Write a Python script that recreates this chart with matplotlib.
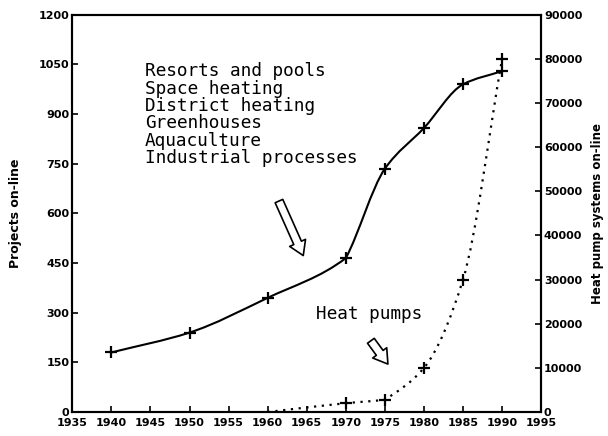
import numpy as np
import matplotlib
matplotlib.use("Agg")
import matplotlib.pyplot as plt
from matplotlib.path import Path
from matplotlib.patches import PathPatch

# values
proj_years = [1940, 1950, 1960, 1970, 1975, 1980, 1985, 1990]
proj_counts = [180, 240, 345, 465, 735, 858, 990, 1030]

hp_years = [1960, 1970, 1975, 1980, 1985, 1990]
hp_counts = [0, 2000, 2800, 10000, 30000, 80000]

uses = ["Resorts and pools", "Space heating", "District heating",
        "Greenhouses", "Aquaculture", "Industrial processes"]

x_ticks = list(range(1935, 1996, 5))
left_ticks = list(range(0, 1201, 150))
right_ticks = list(range(0, 90001, 10000))

PLOT_FONT = "DejaVu Sans Mono"


def smooth_path(xs, ys):
    # monotone cubic (Fritsch-Carlson) as bezier segments; a corner is kept
    # where the slope jumps sharply, like the plotter drawing
    xs = np.asarray(xs, float)
    ys = np.asarray(ys, float)
    h = np.diff(xs)
    d = np.diff(ys) / h
    m_in = np.zeros_like(ys)
    m_out = np.zeros_like(ys)
    m_in[0] = m_out[0] = d[0]
    m_in[-1] = m_out[-1] = d[-1]
    for i in range(1, len(xs) - 1):
        if d[i - 1] * d[i] <= 0:
            continue
        if d[i - 1] > 0 and d[i] / d[i - 1] > 4:
            m_in[i] = 1.5 * d[i - 1]
            m_out[i] = 0.8 * d[i]
        else:
            w1 = 2 * h[i] + h[i - 1]
            w2 = h[i] + 2 * h[i - 1]
            m_in[i] = m_out[i] = (w1 + w2) / (w1 / d[i - 1] + w2 / d[i])
    verts = [(xs[0], ys[0])]
    codes = [Path.MOVETO]
    for i in range(len(xs) - 1):
        verts += [(xs[i] + h[i] / 3, ys[i] + m_out[i] * h[i] / 3),
                  (xs[i + 1] - h[i] / 3, ys[i + 1] - m_in[i + 1] * h[i] / 3),
                  (xs[i + 1], ys[i + 1])]
        codes += [Path.CURVE4] * 3
    return Path(verts, codes)


fig = plt.figure(figsize=(6.08, 4.36), dpi=100)
ax = fig.add_axes([0.119, 0.055, 0.771, 0.911])
ax2 = ax.twinx()

ax.add_patch(PathPatch(smooth_path(proj_years, proj_counts), fill=False,
                       ec="black", lw=1.5))
ax.plot(proj_years, proj_counts, ls="none", marker="+", ms=8, mew=1.6,
        color="black")

ax2.add_patch(PathPatch(smooth_path(hp_years, hp_counts), fill=False,
                        ec="black", lw=1.6, ls=(0, (1, 2.5))))
ax2.plot(hp_years[1:], hp_counts[1:], ls="none", marker="+", ms=8, mew=1.6,
         color="black")

ax.set_xlim(1935, 1995)
ax.set_ylim(0, 1200)
ax2.set_ylim(0, 90000)
ax.set_xticks(x_ticks)
ax.set_yticks(left_ticks)
ax2.set_yticks(right_ticks)

tick_font = dict(fontsize=8, fontweight="bold")
ax.set_xticklabels([str(v) for v in x_ticks], **tick_font)
ax.set_yticklabels([str(v) for v in left_ticks], **tick_font)
ax2.set_yticklabels([str(v) for v in right_ticks], **tick_font)
ax.tick_params(axis="x", direction="in", length=4, width=1.2, pad=4)
ax.tick_params(axis="y", direction="in", length=4, width=1.2, pad=2)
ax2.tick_params(axis="y", direction="in", length=4, width=1.2, pad=2)

for a in (ax, ax2):
    for s in a.spines.values():
        s.set_linewidth(1.5)

ax.set_ylabel("Projects on-line", fontsize=9, fontweight="bold", labelpad=12)
ax2.set_ylabel("Heat pump systems on-line", fontsize=8.5, fontweight="bold",
               labelpad=6)

ax.text(0.155, 0.88, "\n".join(uses), transform=ax.transAxes,
        family=PLOT_FONT, fontsize=12.8, va="top", ha="left",
        linespacing=0.95)
ax.text(0.52, 0.247, "Heat pumps", transform=ax.transAxes,
        family=PLOT_FONT, fontsize=12.8, va="center", ha="left")

arrow = dict(arrowstyle="simple,head_width=1.25,head_length=1.0,tail_width=0.6",
             fc="white", ec="black", lw=1.2)
ax.annotate("", xy=(1964.7, 465), xytext=(1961.3, 645), arrowprops=arrow)
ax.annotate("", xy=(1975.6, 138), xytext=(1973.0, 222), arrowprops=arrow)

fig.savefig("out.png", dpi=100)
